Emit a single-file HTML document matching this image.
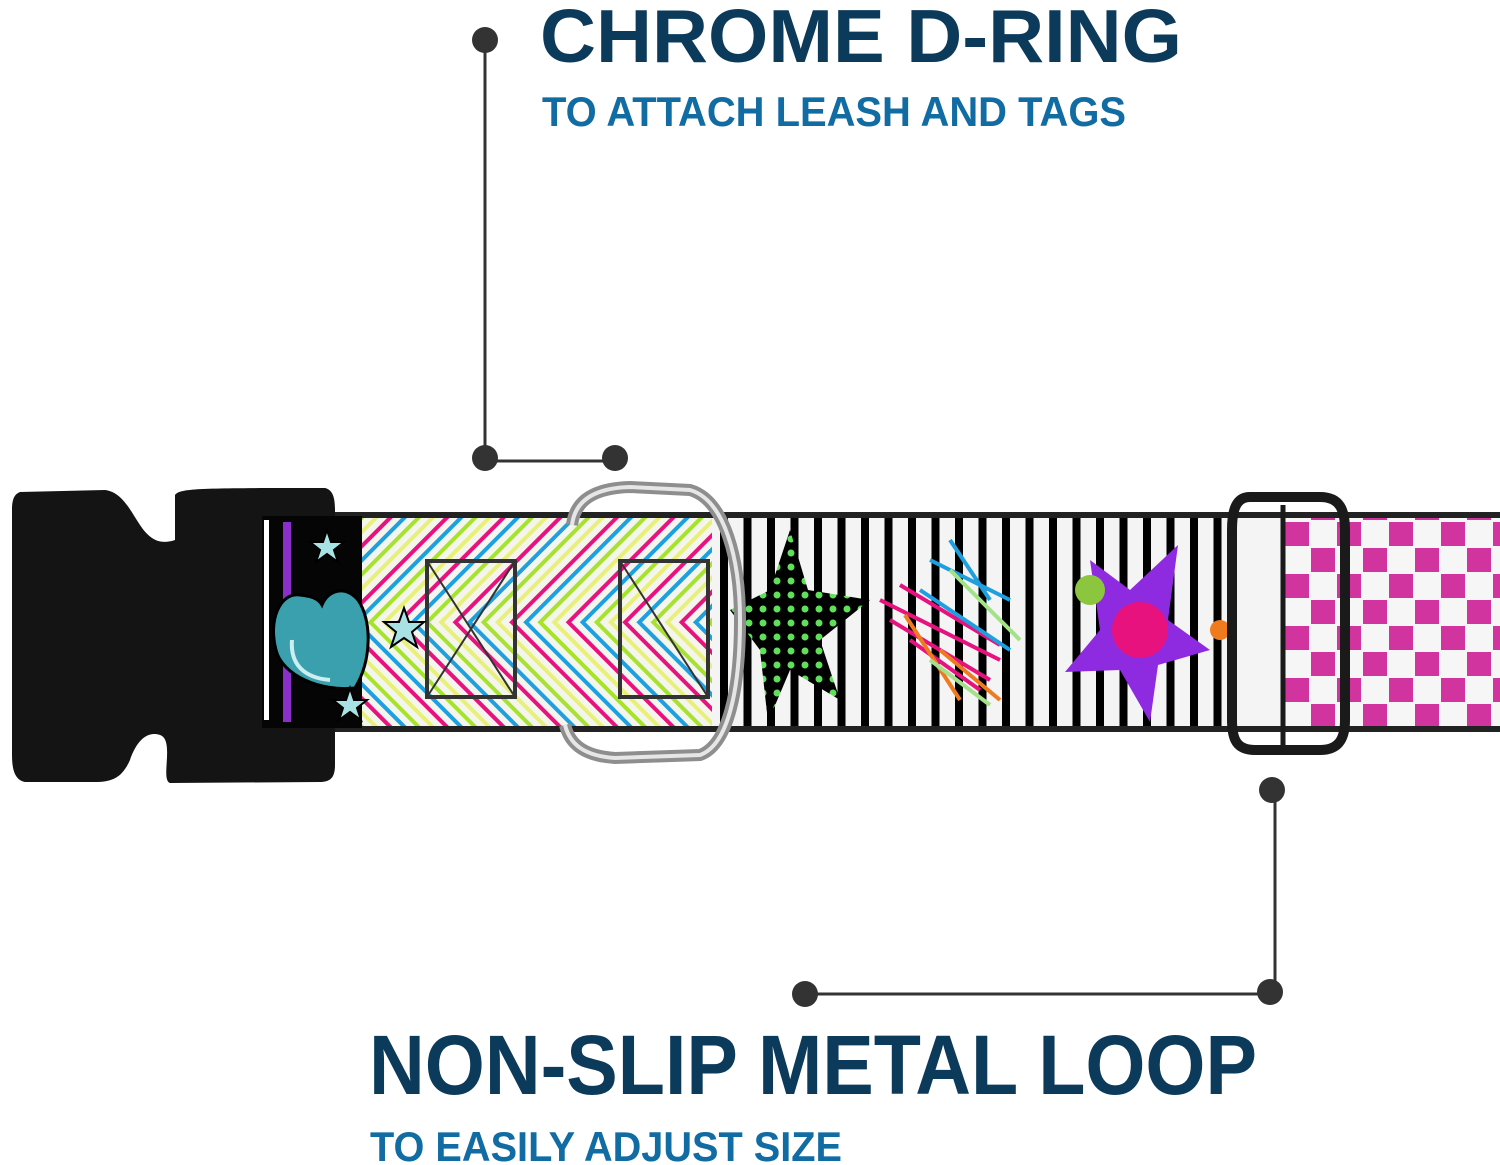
<!DOCTYPE html>
<html><head><meta charset="utf-8"><style>html,body{margin:0;padding:0;background:#fff}svg{display:block}</style></head>
<body>
<svg width="1500" height="1165" viewBox="0 0 1500 1165" xmlns="http://www.w3.org/2000/svg">
<defs>
<pattern id="vs" x="712" y="0" width="23.5" height="10" patternUnits="userSpaceOnUse">
<rect width="23.5" height="10" fill="#f4f4f4"/><rect x="8" width="8" height="10" fill="#000"/>
</pattern>
<pattern id="chk" x="1283" y="520" width="52" height="52" patternUnits="userSpaceOnUse">
<rect width="52" height="52" fill="#f6f6f6"/>
<rect x="2" y="2" width="24" height="24" fill="#d1349f"/>
<rect x="28" y="28" width="24" height="24" fill="#d1349f"/>
</pattern>
<pattern id="chevL" width="40" height="40" patternUnits="userSpaceOnUse" patternTransform="rotate(45)">
<rect width="40" height="40" fill="#f4f6ee"/>
<rect x="0" width="4" height="40" fill="#e8127e"/><rect x="10" width="4" height="40" fill="#1ea0e0"/>
<rect x="20" width="4" height="40" fill="#a6e22e"/><rect x="30" width="4" height="40" fill="#e8f07a"/>
</pattern>
<pattern id="chevR" width="40" height="40" patternUnits="userSpaceOnUse" patternTransform="rotate(-45)">
<rect width="40" height="40" fill="#f4f6ee"/>
<rect x="0" width="4" height="40" fill="#e8127e"/><rect x="10" width="4" height="40" fill="#1ea0e0"/>
<rect x="20" width="4" height="40" fill="#a6e22e"/><rect x="30" width="4" height="40" fill="#e8f07a"/>
</pattern>
<pattern id="dots" width="14" height="14" patternUnits="userSpaceOnUse">
<rect width="14" height="14" fill="#000"/><circle cx="7" cy="7" r="3.5" fill="#5fe05a"/>
</pattern>
</defs>

<!-- buckle -->
<path d="M20 492 L105 490 C122 492 130 510 140 525 C150 540 160 545 175 540 L175 495 C180 488 200 488 325 488 C333 490 335 498 335 510 L335 765 C335 778 330 782 320 782 L170 783 C160 780 175 740 160 735 C145 730 135 745 130 760 C122 778 112 782 95 782 L25 782 C15 780 12 770 12 755 L12 510 C12 498 15 494 20 492Z" fill="#141414"/>

<!-- collar band -->
<rect x="335" y="512" width="1165" height="220" fill="#222"/>
<rect x="262" y="516" width="100" height="212" fill="#050505"/>
<rect x="283" y="522" width="8" height="200" fill="#8a2fc9"/>
<rect x="264" y="520" width="5" height="200" fill="#fff"/>
<rect x="362" y="518" width="350" height="104" fill="url(#chevL)"/>
<rect x="362" y="622" width="350" height="104" fill="url(#chevR)"/>
<rect x="712" y="518" width="520" height="208" fill="url(#vs)"/>
<rect x="1232" y="518" width="268" height="208" fill="url(#chk)"/>
<rect x="1232" y="518" width="51" height="208" fill="#f4f4f4"/>

<!-- stitched boxes -->
<g fill="none" stroke="#333" stroke-width="4">
<rect x="427" y="561" width="88" height="136"/><path d="M427 561 L515 697 M515 561 L427 697" stroke-width="2"/>
<rect x="620" y="561" width="88" height="136"/><path d="M620 561 L708 697" stroke-width="2"/>
</g>

<!-- heart & stars -->
<path d="M300 595 C280 592 268 620 276 650 C282 675 320 692 355 688 C372 660 372 620 358 600 C345 585 328 590 322 605 C318 598 310 596 300 595Z" fill="#3aa0ad" stroke="#000" stroke-width="3"/>
<path d="M292 640 C290 665 305 678 330 680" fill="none" stroke="#cdeef0" stroke-width="4"/>
<g fill="#a8e2e4" stroke="#000" stroke-width="2">
<polygon points="327,530 331,542 344,542 334,550 338,562 327,554 316,562 320,550 310,542 323,542"/>
<polygon points="404,608 409,622 424,622 412,632 417,647 404,638 391,647 396,632 384,622 399,622"/>
<polygon points="350,688 354,700 367,700 357,708 361,720 350,712 339,720 343,708 333,700 346,700"/>
</g>

<!-- stars on stripes -->
<polygon points="790,530 808,590 870,600 820,640 840,700 790,670 768,722 760,650 730,610 770,590" fill="url(#dots)"/>
<g stroke-width="4" fill="none">
<path d="M880 600 L1000 660 M890 620 L990 680 M900 585 L1000 645 M910 640 L980 690" stroke="#e8127e"/>
<path d="M930 560 L1010 600 M920 590 L1010 650 M950 540 L990 600" stroke="#1ea0e0"/>
<path d="M905 615 L960 700 M940 650 L1000 700" stroke="#f07a1e"/>
<path d="M950 570 L1020 640 M930 660 L990 705" stroke="#a6e08a"/>
</g>
<polygon points="1178,545 1168,620 1210,650 1158,665 1150,722 1120,670 1065,672 1100,630 1090,560 1130,590" fill="#8e2be0"/>
<circle cx="1140" cy="630" r="28" fill="#e8127e"/>
<circle cx="1090" cy="590" r="15" fill="#8cc63f"/>
<circle cx="1220" cy="630" r="10" fill="#f07a1e"/>

<!-- D-ring -->
<path d="M572 525 C575 500 595 488 630 487 L690 490 C725 500 740 560 740 620 C740 690 728 745 700 755 L615 758 C585 756 570 745 565 725" fill="none" stroke="#8e8e8e" stroke-width="12"/>
<path d="M572 525 C575 500 595 488 630 487 L690 490 C725 500 740 560 740 620 C740 690 728 745 700 755 L615 758 C585 756 570 745 565 725" fill="none" stroke="#e6e6e6" stroke-width="4"/>

<!-- loop -->
<path d="M1250 497 L1320 497 C1340 497 1345 510 1345 530 L1345 720 C1345 740 1338 750 1320 750 L1255 750 C1237 750 1232 740 1232 720 L1232 530 C1232 510 1236 497 1250 497Z" fill="none" stroke="#1a1a1a" stroke-width="10"/>
<line x1="1283" y1="505" x2="1283" y2="745" stroke="#1a1a1a" stroke-width="5"/>

<!-- connectors -->
<g stroke="#333" stroke-width="3" fill="#333">
<line x1="485" y1="40" x2="485" y2="461"/>
<line x1="485" y1="461" x2="615" y2="461"/>
<line x1="1275" y1="790" x2="1275" y2="994"/>
<line x1="805" y1="994" x2="1272" y2="994"/>
</g>
<g fill="#333">
<circle cx="485" cy="40" r="13"/><circle cx="485" cy="458" r="13"/><circle cx="615" cy="458" r="13"/>
<circle cx="1272" cy="790" r="13"/><circle cx="1270" cy="992" r="13"/><circle cx="805" cy="994" r="13"/>
</g>

<!-- text -->
<g font-family="Liberation Sans, sans-serif" font-weight="bold">
<text x="540" y="62" font-size="75" fill="#0b3a5b" textLength="642" lengthAdjust="spacingAndGlyphs">CHROME D-RING</text>
<text x="542" y="126" font-size="42" fill="#106ca2" textLength="584" lengthAdjust="spacingAndGlyphs">TO ATTACH LEASH AND TAGS</text>
<text x="369" y="1094" font-size="84" fill="#0b3a5b" textLength="888" lengthAdjust="spacingAndGlyphs">NON-SLIP METAL LOOP</text>
<text x="370" y="1161" font-size="42" fill="#106ca2" textLength="472" lengthAdjust="spacingAndGlyphs">TO EASILY ADJUST SIZE</text>
</g>
</svg>
</body></html>
